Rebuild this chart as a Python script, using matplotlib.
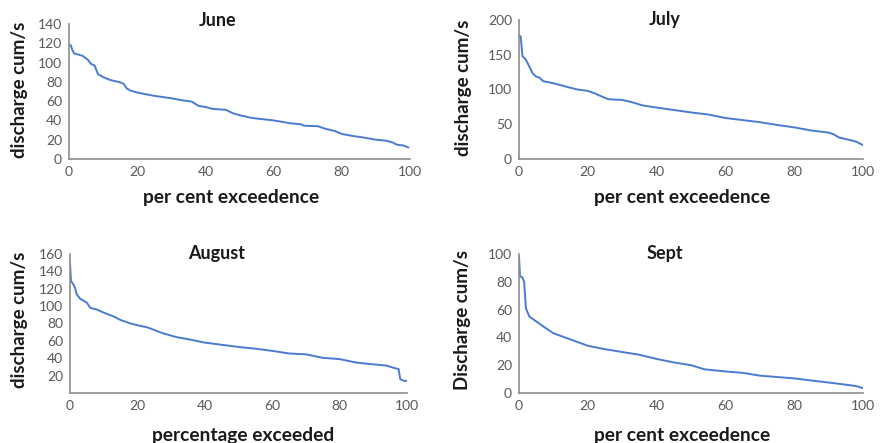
import matplotlib
matplotlib.use("Agg")
import matplotlib.pyplot as plt

plt.rcParams['font.family'] = ['Lato', 'DejaVu Sans']

# flow duration curves (per cent exceedence, discharge cum/s)
june_x = [0.5, 1, 1.5, 4, 5.5, 6.5, 7.5, 8.5, 10, 12, 15, 16, 17, 18, 20, 22, 25, 30, 33, 36,
          38, 40, 42, 46, 48, 50, 53, 55, 60, 65, 68, 69, 73, 75, 78, 80, 83, 86, 90, 93,
          95, 96, 98, 99.5]
june_y = [118, 113, 109.5, 107, 103, 98.5, 97, 88, 85, 82, 79.5, 78, 73, 71, 69, 67.5, 65.5, 63, 61, 59.5,
          55, 54, 52, 51, 47.5, 45.5, 43, 42, 40, 37, 36, 34.5, 34, 31.5, 29, 26, 24, 22.5, 20, 19,
          17, 15, 14, 12]

july_x = [0, 0.5, 1, 2, 3, 4, 5, 6, 7, 10, 13, 17, 20, 22, 24, 26, 30, 33, 36, 40,
          45, 50, 55, 60, 65, 70, 75, 80, 85, 90, 91.5, 93, 96, 98, 100]
july_y = [178, 176, 148, 143, 133, 123, 118.5, 117, 112, 109, 105, 100, 98, 94.5, 90, 86, 85, 81.5, 77, 74,
          70.5, 67, 64, 59, 56, 53, 49, 45.5, 41, 38, 35.5, 31, 27.5, 25, 20]

aug_x = [0, 0.3, 1, 1.5, 2, 3, 5, 6, 8, 10, 13, 15, 18, 20, 23, 27, 30, 32, 35, 40,
         45, 50, 55, 60, 65, 70, 75, 80, 85, 90, 94, 96, 97.5, 98, 99, 100]
aug_y = [150, 129, 125, 121, 113.5, 108.5, 104, 98, 96, 92.5, 88, 84, 80, 78, 75.5, 69.5, 66, 64, 62, 58,
         55.5, 53, 51, 48.5, 45.5, 44.5, 40.5, 39, 35, 33, 31.5, 29, 27.5, 16, 14, 14]

sept_x = [0, 0.3, 1, 1.5, 2, 3, 5, 7, 10, 15, 20, 25, 30, 35, 40, 45, 50, 54, 60, 65,
          70, 75, 80, 85, 90, 95, 98, 100]
sept_y = [98, 84, 83, 80, 61, 55, 51.5, 48, 43, 38.5, 34, 31.5, 29.5, 27.5, 24.5, 22, 20, 17, 15.5, 14.5,
          12.5, 11.5, 10.5, 9, 7.5, 6, 5, 3.5]

x_ticks = [0, 20, 40, 60, 80, 100]

W, H = 880, 443
fig = plt.figure(figsize=(W / 100, H / 100), dpi=100)

blue = '#4A7BD0'
grey = '#595959'

panels = [
    # data, pixel box (left, top, right, bottom), ylim, yticks, title, ylabel, xlabel, label positions
    (june_x, june_y, (69, 24, 410, 159), 140, range(0, 141, 20), 'June', 'discharge cum/s',
     'per cent exceedence', (218, 20), (19, 90), (231, 197)),
    (july_x, july_y, (519, 20, 863, 159), 200, range(0, 201, 50), 'July', 'discharge cum/s',
     'per cent exceedence', (665, 20), (463, 88), (682, 197)),
    (aug_x, aug_y, (70, 254, 407, 393), 160, range(20, 161, 20), 'August', 'discharge cum/s',
     'percentage exceeded', (217, 253), (19, 320), (243, 435)),
    (sept_x, sept_y, (519, 254, 863, 393), 100, range(0, 101, 20), 'Sept', 'Discharge cum/s',
     'per cent exceedence', (665, 253), (462, 320), (682, 435)),
]

for xs, ys, box, ymax, yt, title, ylab, xlab, tpos, ypos, xpos in panels:
    l, t, r, b = box
    ax = fig.add_axes([l / W, 1 - b / H, (r - l) / W, (b - t) / H])
    ax.plot(xs, ys, color=blue, lw=1.4)
    ax.set_xlim(0, 100)
    ax.set_ylim(0, ymax)
    ax.set_xticks(x_ticks)
    ax.set_yticks(list(yt))
    ax.tick_params(length=0, labelsize=10, labelcolor=grey, pad=5)
    ax.spines['top'].set_visible(False)
    ax.spines['right'].set_visible(False)
    for s in ('left', 'bottom'):
        ax.spines[s].set_color('#8C8C8C')
        ax.spines[s].set_linewidth(1.2)
    fig.text(tpos[0] / W, 1 - tpos[1] / H, title, ha='center', va='center',
             fontsize=13, fontweight='bold', color='#1A1A1A')
    fig.text(ypos[0] / W, 1 - ypos[1] / H, ylab, ha='center', va='center', rotation=90,
             fontsize=13.5, fontweight='bold', color='#1A1A1A')
    fig.text(xpos[0] / W, 1 - xpos[1] / H, xlab, ha='center', va='center',
             fontsize=13.8, fontweight='bold', color='#1A1A1A')

fig.savefig('out.png', dpi=100)
